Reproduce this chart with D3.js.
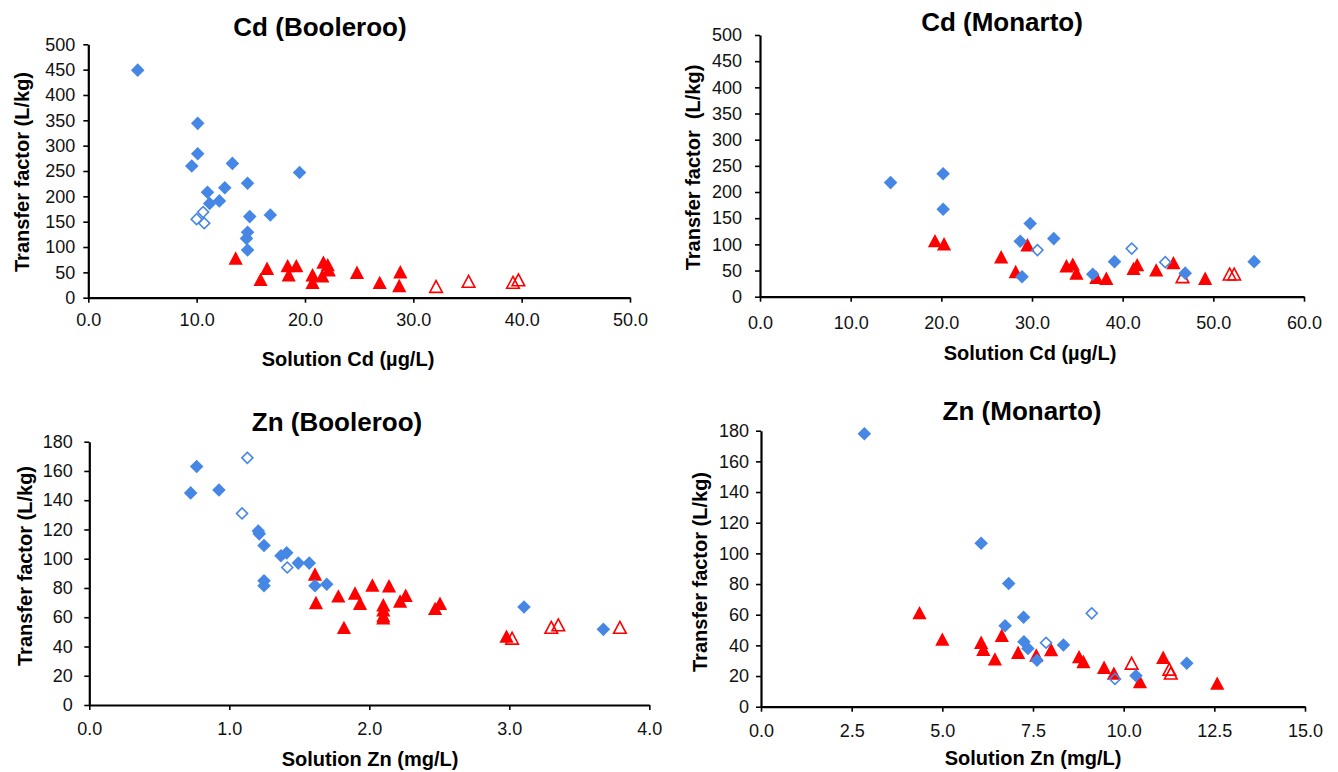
<!DOCTYPE html>
<html>
<head>
<meta charset="utf-8">
<script src="https://cdn.jsdelivr.net/npm/d3@7"></script>
<style>
  body { margin: 0; background: #fff; }
  text { font-family: "Liberation Sans", Arial, sans-serif; }
</style>
</head>
<body>
<div id="chart"></div>
<script>
// [solution conc, transfer factor] pairs
const cdBooBlueFilled = [[4.56,449],[10.1,344],[10.1,284],[9.55,260],[13.3,265],[19.5,247],[14.7,226],[11.0,208],[12.6,217],[11.2,186],[12.1,191],[14.9,160],[16.8,163],[14.7,129],[14.6,117],[14.7,94]];
const cdBooBlueOpen = [[10.0,155],[10.6,169],[10.7,147]];
const cdBooRedFilled = [[13.6,78],[15.9,36],[16.5,58],[18.4,63],[18.5,45],[19.2,63],[20.7,45],[20.7,30],[21.6,43],[21.7,70],[22.1,65],[22.2,55],[24.8,50],[26.9,30],[28.8,51],[28.7,24]];
const cdBooRedOpen = [[32.1,22],[35.1,32],[39.2,30],[39.7,35]];

const cdMonBlueFilled = [[14.4,218],[20.2,235],[20.2,167],[29.8,140],[28.7,106],[32.4,111],[28.9,38],[36.7,43],[39.1,67],[46.9,45],[54.5,67]];
const cdMonBlueOpen = [[30.6,89],[41.0,92],[44.7,66]];
const cdMonRedFilled = [[19.3,107],[20.3,101],[26.6,76],[28.2,48],[29.5,99],[33.8,59],[34.5,62],[34.9,45],[37.1,37],[38.2,35],[41.2,54],[41.6,61],[43.7,51],[45.6,65],[49.1,35]];
const cdMonRedOpen = [[46.6,38],[51.8,43],[52.3,43]];

const znBooBlueFilled = [[0.724,145],[0.767,163],[0.926,147],[1.207,119],[1.214,117],[1.248,109],[1.248,85],[1.248,81.5],[1.369,102],[1.41,104],[1.493,97],[1.571,97],[1.612,81.5],[1.696,82.5],[3.105,67],[3.672,51.7]];
const znBooBlueOpen = [[1.129,169],[1.091,131],[1.414,94]];
const znBooRedFilled = [[1.612,89.5],[1.619,70],[1.779,74.5],[1.819,53],[1.898,76.5],[1.934,69.5],[2.022,82],[2.141,81.5],[2.1,68.5],[2.1,65],[2.1,61],[2.1,59.5],[2.22,71],[2.26,75],[2.47,66],[2.505,69.5],[2.98,47]];
const znBooRedOpen = [[3.02,45.6],[3.30,53],[3.35,54.7],[3.79,53]];

const znMonBlueFilled = [[2.85,178],[6.07,106.6],[6.83,80.3],[6.73,52.8],[7.24,58.3],[7.25,42.4],[7.36,38],[7.61,30.3],[8.34,40.2],[10.34,20.2],[11.74,28.3]];
const znMonBlueOpen = [[7.86,41.7],[9.12,60.9],[9.76,18.1]];
const znMonRedFilled = [[4.37,61.3],[5.0,44],[6.07,42],[6.13,37.4],[6.45,31.1],[6.64,46.5],[7.09,35.4],[7.59,33.7],[8.0,37.2],[8.77,32.6],[8.89,29.4],[9.46,25.7],[9.73,21.8],[10.45,16.3],[11.09,32.2],[12.58,15.3]];
const znMonRedOpen = [[10.22,28.3],[11.26,24.4],[11.3,21.8]];

const cdYTicks = [0,50,100,150,200,250,300,350,400,450,500];
const znYTicks = [0,20,40,60,80,100,120,140,160,180];
const cdBooXTicks = [0,10,20,30,40,50];
const cdMonXTicks = [0,10,20,30,40,50,60];
const znBooXTicks = [0,1,2,3,4];
const znMonXTicks = [0,2.5,5,7.5,10,12.5,15];

const blue = "#4687e6", red = "#ff0000";

const panels = [
  {title: "Cd (Booleroo)", xLabel: "Solution Cd (µg/L)", yLabel: "Transfer factor (L/kg)",
   box: [88.3, 630, 44.3, 297.7], xTicks: cdBooXTicks, yTicks: cdYTicks,
   ySpace: 13, xSpace: 15.5, titlePos: [320, 36], xLabelPos: [348, 366], yLabelPos: [22, 172],
   series: [cdBooRedFilled, cdBooRedOpen, cdBooBlueFilled, cdBooBlueOpen]},
  {title: "Cd (Monarto)", xLabel: "Solution Cd (µg/L)", yLabel: "Transfer factor  (L/kg)",
   box: [760, 1304, 35, 296.7], xTicks: cdMonXTicks, yTicks: cdYTicks,
   ySpace: 18, xSpace: 19.8, titlePos: [1002, 31], xLabelPos: [1030, 360], yLabelPos: [693, 167.5],
   series: [cdMonRedFilled, cdMonRedOpen, cdMonBlueFilled, cdMonBlueOpen]},
  {title: "Zn (Booleroo)", xLabel: "Solution Zn (mg/L)", yLabel: "Transfer factor (L/kg)",
   box: [89.3, 649.3, 441.7, 705], xTicks: znBooXTicks, yTicks: znYTicks,
   ySpace: 16.5, xSpace: 17.2, titlePos: [337, 431], xLabelPos: [370, 766], yLabelPos: [25, 566],
   series: [znBooRedFilled, znBooRedOpen, znBooBlueFilled, znBooBlueOpen]},
  {title: "Zn (Monarto)", xLabel: "Solution Zn (mg/L)", yLabel: "Transfer factor (L/kg)",
   box: [761, 1305, 430.7, 706.7], xTicks: znMonXTicks, yTicks: znYTicks,
   ySpace: 12, xSpace: 17.2, titlePos: [1022, 420], xLabelPos: [1033, 765], yLabelPos: [700, 572],
   series: [znMonRedFilled, znMonRedOpen, znMonBlueFilled, znMonBlueOpen]}
];

// marker styles, in the same order as each panel's series list
const markerStyles = [
  {shape: "triangle", fill: red, stroke: "none"},
  {shape: "triangle", fill: "none", stroke: red},
  {shape: "diamond", fill: blue, stroke: "none"},
  {shape: "diamond", fill: "none", stroke: blue}
];

const triPath = "M0,-6.8L7.1,6.6L-7.1,6.6Z";
const triOpenPath = "M0,-6L6.3,5.8L-6.3,5.8Z";
const diamondFilled = d3.symbol(d3.symbolSquare, 92)();
const diamondOpen = d3.symbol(d3.symbolSquare, 60)();

const svg = d3.select("#chart").append("svg")
  .attr("width", 1338)
  .attr("height", 772)
  .style("background", "#fff");

panels.forEach(p => {
  const [x0, x1, y0, y1] = p.box;
  const x = d3.scaleLinear().domain(d3.extent(p.xTicks)).range([x0, x1]);
  const y = d3.scaleLinear().domain(d3.extent(p.yTicks)).range([y1, y0]);
  const g = svg.append("g");

  const yAxis = g.append("g")
    .attr("transform", `translate(${x0},0)`)
    .call(d3.axisLeft(y).tickValues(p.yTicks).tickFormat(d3.format("d"))
      .tickSizeInner(5).tickSizeOuter(0).tickPadding(p.ySpace - 5));
  const xAxis = g.append("g")
    .attr("transform", `translate(0,${y1})`)
    .call(d3.axisBottom(x).tickValues(p.xTicks).tickFormat(d3.format(".1f"))
      .tickSizeInner(5).tickSizeOuter(0).tickPadding(p.xSpace - 5));
  [xAxis, yAxis].forEach(a => {
    a.select(".domain").attr("stroke", "#000").attr("stroke-width", 2.2);
    a.selectAll(".tick line").attr("stroke", "#000").attr("stroke-width", 1.6);
    a.selectAll("text").attr("fill", "#111").style("font-size", "18px")
      .style("font-family", "'Liberation Sans', Arial, sans-serif");
  });

  p.series.forEach((data, i) => {
    const st = markerStyles[i];
    const path = st.shape === "triangle"
      ? (st.fill === "none" ? triOpenPath : triPath)
      : (st.fill === "none" ? diamondOpen : diamondFilled);
    g.append("g").selectAll("path")
      .data(data)
      .join("path")
        .attr("d", path)
        .attr("transform", d => `translate(${x(d[0])},${y(d[1])})` + (st.shape === "diamond" ? " rotate(45)" : ""))
        .attr("fill", st.fill)
        .attr("stroke", st.stroke)
        .attr("stroke-width", st.fill === "none" ? 1.6 : 0);
  });

  g.append("text")
    .attr("x", p.titlePos[0]).attr("y", p.titlePos[1])
    .attr("text-anchor", "middle")
    .style("font-size", "26px").style("font-weight", "bold")
    .text(p.title);
  g.append("text")
    .attr("x", p.xLabelPos[0]).attr("y", p.xLabelPos[1])
    .attr("text-anchor", "middle")
    .style("font-size", "20px").style("font-weight", "bold")
    .text(p.xLabel);
  g.append("text")
    .attr("transform", `translate(${p.yLabelPos[0]},${p.yLabelPos[1]}) rotate(-90)`)
    .attr("text-anchor", "middle")
    .attr("dy", "0.35em")
    .style("font-size", "20px").style("font-weight", "bold")
    .style("white-space", "pre")
    .text(p.yLabel);
});
</script>
</body>
</html>
